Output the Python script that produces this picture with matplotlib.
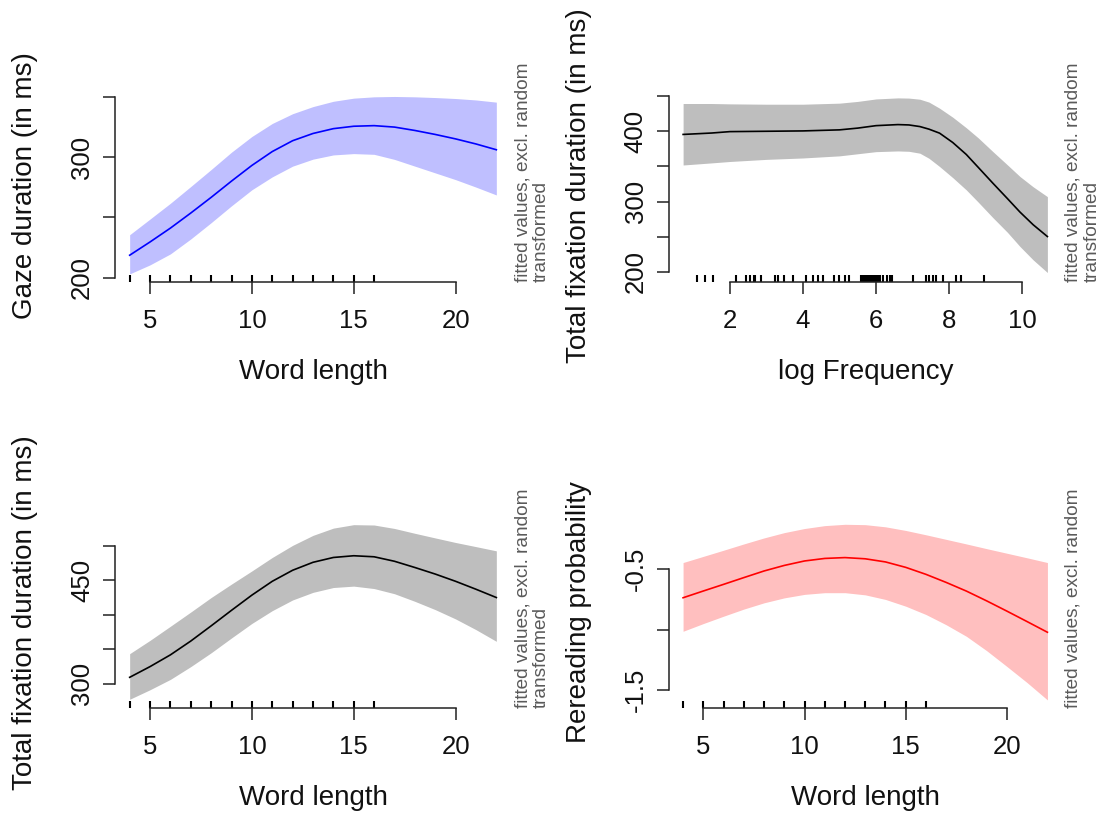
import matplotlib
matplotlib.use("Agg")
import matplotlib.pyplot as plt
from matplotlib.transforms import blended_transform_factory

plt.rcParams['font.family'] = ['Liberation Sans', 'DejaVu Sans']

# ---------------- data ----------------
# word length grid (panels 1, 3, 4)
wl_x = [4, 5, 6, 7, 8, 9, 10, 11, 12, 13, 14, 15, 16, 17, 18, 19, 20, 21, 22]

# Panel 1: Gaze duration vs word length
gaze_fit = [218.5, 229.5, 241.0, 253.5, 266.5, 280.0, 293.0, 304.5, 313.5, 319.5,
            323.5, 325.5, 326.0, 324.8, 322.0, 318.7, 315.0, 310.8, 306.0]
gaze_hi = [235.5, 248.5, 261.6, 275.5, 289.6, 304.0, 317.0, 327.8, 335.9, 341.8,
           346.2, 348.8, 349.9, 350.2, 349.9, 349.3, 348.5, 347.3, 345.5]
gaze_lo = [203.0, 210.5, 219.6, 232.0, 245.5, 259.5, 272.8, 283.5, 292.4, 298.2,
           301.7, 302.8, 302.2, 298.0, 292.4, 286.8, 281.2, 275.0, 268.5]
wl_rug = [4, 5, 6, 7, 8, 9, 10, 11, 12, 13, 14, 15, 16]

# Panel 2: Total fixation duration vs log frequency
lf_x = [0.72, 1.5, 2.0, 3.0, 4.0, 5.0, 5.5, 6.0, 6.6, 6.9, 7.2, 7.45, 7.74, 8.1,
        8.47, 8.8, 9.2, 9.6, 9.94, 10.3, 10.69]
tfd_lf_fit = [395.5, 397.5, 399.5, 400.0, 400.5, 402.0, 404.5, 408.0, 409.5, 409.0,
              406.7, 403.0, 397.3, 384.0, 367.0, 348.5, 326.0, 304.0, 285.0, 267.0, 250.2]
tfd_lf_hi = [439.5, 439.5, 439.0, 438.5, 438.5, 440.0, 442.5, 446.0, 447.5, 447.2,
             445.6, 441.5, 432.8, 420.0, 405.0, 390.5, 371.0, 352.0, 335.6, 321.0, 307.0]
tfd_lf_lo = [352.0, 355.0, 357.0, 360.0, 362.0, 365.0, 368.0, 371.0, 372.0, 371.5,
             368.8, 361.5, 349.8, 334.0, 316.6, 299.0, 277.0, 256.0, 236.0, 217.0, 199.0]
lf_rug = [1.09, 1.32, 1.55, 2.18, 2.45, 2.55, 2.65, 2.70, 2.86, 3.23, 3.32, 3.47, 3.73,
          4.09, 4.27, 4.41, 4.55, 4.86, 5.00, 5.14, 5.27, 5.59, 5.65, 5.70, 5.75, 5.80,
          5.85, 5.90, 5.95, 6.00, 6.05, 6.10, 6.20, 6.30, 6.38, 6.45, 7.00, 7.36, 7.45,
          7.55, 7.64, 7.82, 8.18, 8.32, 8.95]

# Panel 3: Total fixation duration vs word length
tfd_wl_fit = [309.5, 325.0, 342.0, 362.0, 384.0, 406.5, 428.5, 448.5, 464.5, 476.0,
              483.0, 485.5, 484.0, 477.5, 468.5, 459.0, 448.5, 437.0, 425.0]
tfd_wl_hi = [343.7, 363.0, 383.4, 404.0, 425.0, 444.5, 463.5, 483.0, 500.5, 515.0,
             525.5, 530.5, 530.0, 525.0, 518.0, 511.3, 504.7, 498.7, 492.6]
tfd_wl_lo = [277.7, 291.5, 306.5, 325.0, 345.0, 366.5, 387.5, 406.0, 421.5, 432.5,
             439.5, 441.5, 438.0, 430.5, 419.5, 407.5, 394.0, 378.5, 361.6]

# Panel 4: Rereading probability vs word length
rr_fit = [-0.736, -0.680, -0.625, -0.569, -0.514, -0.468, -0.431, -0.410, -0.403, -0.413,
          -0.439, -0.484, -0.542, -0.609, -0.681, -0.762, -0.847, -0.934, -1.022]
rr_hi = [-0.444, -0.393, -0.342, -0.290, -0.240, -0.196, -0.162, -0.138, -0.127, -0.130,
         -0.148, -0.178, -0.214, -0.252, -0.290, -0.329, -0.367, -0.405, -0.444]
rr_lo = [-1.014, -0.950, -0.889, -0.830, -0.778, -0.737, -0.708, -0.694, -0.694, -0.712,
         -0.750, -0.806, -0.875, -0.960, -1.056, -1.175, -1.306, -1.440, -1.583]

side_text_2 = "fitted values, excl. random\ntransformed"
side_text_1 = "fitted values, excl. random"

# ---------------- figure ----------------
W, H = 1106, 814
fig = plt.figure(figsize=(W / 100, H / 100), dpi=100)


def axes_px(l, t, r, b):
    return fig.add_axes([l / W, 1 - b / H, (r - l) / W, (b - t) / H])


TICK_FS = 18.5
LAB_FS = 20
SIDE_FS = 13.7


def panel(ax, x, fit, lo, hi, band_col, line_col, xlim, ylim, xticks, yticks,
          ylabels, xlabel, ylabel, rug, side):
    ax.fill_between(x, lo, hi, color=band_col, lw=0)
    ax.plot(x, fit, color=line_col, lw=1.2, solid_joinstyle='round')
    ax.set_xlim(*xlim)
    ax.set_ylim(*ylim)
    tr = blended_transform_factory(ax.transData, ax.transAxes)
    ax.vlines(rug, 0, 0.035, transform=tr, color='black', lw=1.5, clip_on=False)
    for s in ['top', 'right']:
        ax.spines[s].set_visible(False)
    for s in ['left', 'bottom']:
        ax.spines[s].set_linewidth(1.1)
        ax.spines[s].set_color('#222222')
    ax.spines['left'].set_bounds(yticks[0], yticks[-1])
    ax.spines['bottom'].set_bounds(xticks[0], xticks[-1])
    ax.set_xticks(xticks)
    ax.set_xticklabels([str(t) for t in xticks])
    ax.set_yticks(yticks)
    ax.set_yticklabels(ylabels, rotation=90, va='center')
    ax.tick_params(axis='both', direction='out', length=8.6, width=1.1,
                   color='#222222', labelsize=TICK_FS, labelcolor='#111111')
    ax.tick_params(axis='x', pad=11)
    ax.tick_params(axis='y', pad=6.5)
    ax.annotate(xlabel, xy=(0.5, 0), xycoords='axes fraction', xytext=(0, -90),
                textcoords='offset pixels', ha='center', va='center',
                fontsize=LAB_FS, color='#111111')
    ax.annotate(ylabel, xy=(0, 0.5), xycoords='axes fraction', xytext=(-90, 0),
                textcoords='offset pixels', ha='center', va='center',
                rotation=90, fontsize=LAB_FS, color='#111111')
    ax.annotate(side, xy=(1, 0), xycoords='axes fraction', xytext=(3, 0),
                textcoords='offset pixels', ha='left', va='bottom',
                rotation=90, fontsize=SIDE_FS, color='#5a5a5a',
                multialignment='left', linespacing=1.15)


ax1 = axes_px(115, 89.6, 511, 281.5)
panel(ax1, wl_x, gaze_fit, gaze_lo, gaze_hi, '#bfbfff', '#0000ff',
      (3.28, 22.72), (196.7, 355.9), [5, 10, 15, 20], [200, 250, 300, 350],
      ['200', '', '300', ''], 'Word length', 'Gaze duration (in ms)', wl_rug,
      side_text_2)

ax2 = axes_px(668.5, 89.6, 1062, 281.5)
panel(ax2, lf_x, tfd_lf_fit, tfd_lf_lo, tfd_lf_hi, '#bebebe', '#000000',
      (0.32, 11.09), (186.2, 459.3), [2, 4, 6, 8, 10],
      [200, 250, 300, 350, 400, 450], ['200', '', '300', '', '400', ''],
      'log Frequency', 'Total fixation duration (in ms)', lf_rug, side_text_2)

ax3 = axes_px(115, 517, 511, 707.7)
panel(ax3, wl_x, tfd_wl_fit, tfd_wl_lo, tfd_wl_hi, '#bebebe', '#000000',
      (3.28, 22.72), (265.5, 541.6), [5, 10, 15, 20],
      [300, 350, 400, 450, 500], ['300', '', '', '450', ''],
      'Word length', 'Total fixation duration (in ms)', wl_rug, side_text_2)

ax4 = axes_px(668.5, 517, 1062, 707.7)
panel(ax4, wl_x, rr_fit, rr_lo, rr_hi, '#ffbfbf', '#ff0000',
      (3.28, 22.72), (-1.6475, -0.0665), [5, 10, 15, 20],
      [-1.5, -1.0, -0.5], ['-1.5', '', '-0.5'],
      'Word length', 'Rereading probability', wl_rug, side_text_1)

fig.savefig('out.png', dpi=100, facecolor='white')
